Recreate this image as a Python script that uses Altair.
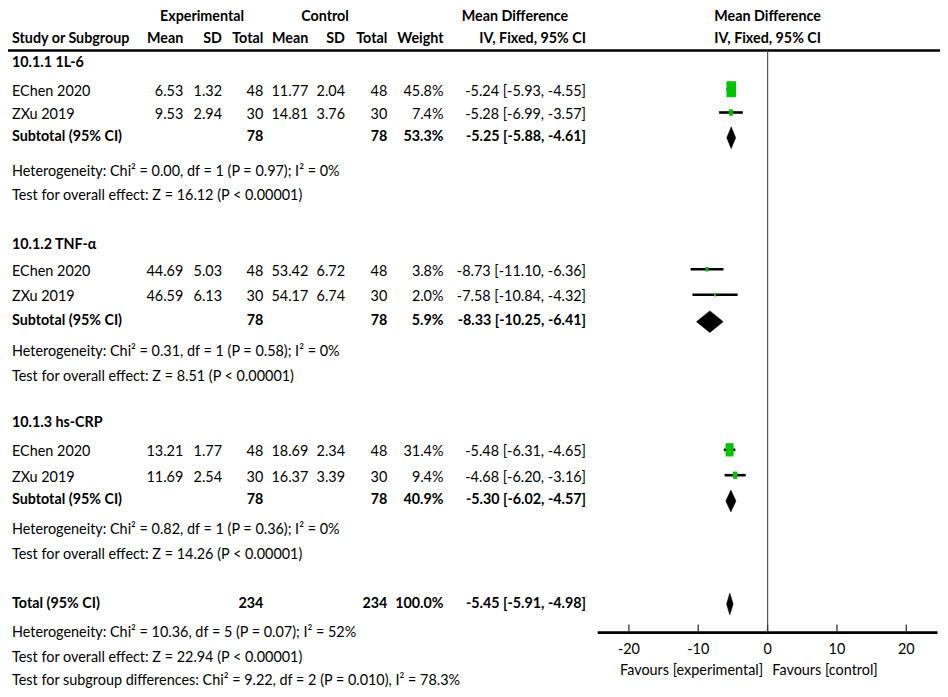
import altair as alt
import pandas as pd

# ---------------- data ----------------
subgroups = ["10.1.1 1L-6", "10.1.2 TNF-α", "10.1.3 hs-CRP"]
study_names = ["EChen 2020", "ZXu 2019", "EChen 2020", "ZXu 2019", "EChen 2020", "ZXu 2019"]
exp_mean = [6.53, 9.53, 44.69, 46.59, 13.21, 11.69]
exp_sd = [1.32, 2.94, 5.03, 6.13, 1.77, 2.54]
exp_n = [48, 30, 48, 30, 48, 30]
ctl_mean = [11.77, 14.81, 53.42, 54.17, 18.69, 16.37]
ctl_sd = [2.04, 3.76, 6.72, 6.74, 2.34, 3.39]
ctl_n = [48, 30, 48, 30, 48, 30]
study_weight = [45.8, 7.4, 3.8, 2.0, 31.4, 9.4]
study_md = [-5.24, -5.28, -8.73, -7.58, -5.48, -4.68]
study_lo = [-5.93, -6.99, -11.10, -10.84, -6.31, -6.20]
study_hi = [-4.55, -3.57, -6.36, -4.32, -4.65, -3.16]

sub_n_exp = [78, 78, 78]
sub_n_ctl = [78, 78, 78]
sub_weight = [53.3, 5.9, 40.9]
sub_md = [-5.25, -8.33, -5.30]
sub_lo = [-5.88, -10.25, -6.02]
sub_hi = [-4.61, -6.41, -4.57]
sub_het = [
    "Heterogeneity: Chi² = 0.00, df = 1 (P = 0.97); I² = 0%",
    "Heterogeneity: Chi² = 0.31, df = 1 (P = 0.58); I² = 0%",
    "Heterogeneity: Chi² = 0.82, df = 1 (P = 0.36); I² = 0%",
]
sub_test = [
    "Test for overall effect: Z = 16.12 (P < 0.00001)",
    "Test for overall effect: Z = 8.51 (P < 0.00001)",
    "Test for overall effect: Z = 14.26 (P < 0.00001)",
]

total_n_exp = 234
total_n_ctl = 234
total_weight = 100.0
total_md = -5.45
total_lo = -5.91
total_hi = -4.98
total_notes = [
    "Heterogeneity: Chi² = 10.36, df = 5 (P = 0.07); I² = 52%",
    "Test for overall effect: Z = 22.94 (P < 0.00001)",
    "Test for subgroup differences: Chi² = 9.22, df = 2 (P = 0.010), I² = 78.3%",
]

axis_ticks = [-20, -10, 0, 10, 20]
favours = ["Favours [experimental]", "Favours [control]"]

# ---------------- layout (page pixels -> plot pixels) ----------------
OFF = 8
W, H = 932, 681
FONT = "Lato, Liberation Sans, sans-serif"
FS = 14.4
FSB = 14.3
GREEN = "#00c400"


def P(v):
    return v - OFF


y_head1 = P(16.5)
y_head2 = P(38.5)
y_hline = P(50.5)
y_title = [P(63), P(245), P(423.3)]
y_study = [P(91.7), P(115), P(271.7), P(297.3), P(452.3), P(477.7)]
y_sub = [P(136.7), P(320.7), P(500)]
y_het = [P(171.7), P(351.7), P(530)]
y_test = [P(196), P(376.7), P(555)]
y_total = P(604)
y_notes = [P(633.3), P(658.3), P(680.5)]
y_axis = P(632.6)
y_tick_top = P(624.5)
y_ticklab = P(649.5)
y_fav = P(671.4)

cols = {
    "name": (P(12), "left"),
    "em": (P(183.3), "right"),
    "esd": (P(222), "right"),
    "en": (P(263.3), "right"),
    "cm": (P(308.3), "right"),
    "csd": (P(345), "right"),
    "cn": (P(387.3), "right"),
    "w": (P(443.5), "right"),
    "ci": (P(586), "right"),
    "exp_head": (P(202), "center"),
    "ctl_head": (P(325), "center"),
    "md_head": (P(515), "center"),
}

yscale = alt.Scale(domain=[0, H], range=[0, H], nice=False, zero=False)
xscale = alt.Scale(domain=[-24.5, 24.5], range=[P(597.7), P(937.5)], nice=False, zero=False)


def Y(f):
    return alt.Y(f, type="quantitative", scale=yscale, axis=None)


def X(f):
    return alt.X(f, type="quantitative", scale=xscale, axis=None)


def ci_str(m, lo, hi):
    return f"{m:.2f} [{lo:.2f}, {hi:.2f}]"


# ---------------- text table ----------------
rows = []


def add(y, col, text, bold=False):
    rows.append({"y": y, "col": col, "text": text, "bold": bold})


add(y_head1, "exp_head", "Experimental", True)
add(y_head1, "ctl_head", "Control", True)
add(y_head1, "md_head", "Mean Difference", True)
for col, t in [("name", "Study or Subgroup"), ("em", "Mean"), ("esd", "SD"), ("en", "Total"),
               ("cm", "Mean"), ("csd", "SD"), ("cn", "Total"), ("w", "Weight"),
               ("ci", "IV, Fixed, 95% CI")]:
    add(y_head2, col, t, True)

for g in range(3):
    add(y_title[g], "name", subgroups[g], True)
    for k in range(2):
        i = 2 * g + k
        y = y_study[i]
        add(y, "name", study_names[i])
        add(y, "em", f"{exp_mean[i]:.2f}")
        add(y, "esd", f"{exp_sd[i]:.2f}")
        add(y, "en", str(exp_n[i]))
        add(y, "cm", f"{ctl_mean[i]:.2f}")
        add(y, "csd", f"{ctl_sd[i]:.2f}")
        add(y, "cn", str(ctl_n[i]))
        add(y, "w", f"{study_weight[i]:.1f}%")
        add(y, "ci", ci_str(study_md[i], study_lo[i], study_hi[i]))
    add(y_sub[g], "name", "Subtotal (95% CI)", True)
    add(y_sub[g], "en", str(sub_n_exp[g]), True)
    add(y_sub[g], "cn", str(sub_n_ctl[g]), True)
    add(y_sub[g], "w", f"{sub_weight[g]:.1f}%", True)
    add(y_sub[g], "ci", ci_str(sub_md[g], sub_lo[g], sub_hi[g]), True)
    add(y_het[g], "name", sub_het[g])
    add(y_test[g], "name", sub_test[g])

add(y_total, "name", "Total (95% CI)", True)
add(y_total, "en", str(total_n_exp), True)
add(y_total, "cn", str(total_n_ctl), True)
add(y_total, "w", f"{total_weight:.1f}%", True)
add(y_total, "ci", ci_str(total_md, total_lo, total_hi), True)
for k in range(3):
    add(y_notes[k], "name", total_notes[k])

tdf = pd.DataFrame(rows)

layers = []
for col, (xp, align) in cols.items():
    for bold in (False, True):
        part = tdf[(tdf["col"] == col) & (tdf["bold"] == bold)]
        if len(part) == 0:
            continue
        layers.append(
            alt.Chart(part).mark_text(
                align=align, baseline="middle", font=FONT, fontSize=FSB if bold else FS,
                fontWeight="bold" if bold else "normal", color="black",
            ).encode(x=alt.value(xp), y=Y("y"), text="text:N")
        )

# plot-side headers centred on the line of no effect
phead = pd.DataFrame({"y": [y_head1, y_head2], "text": ["Mean Difference", "IV, Fixed, 95% CI"], "x": [0, 0]})
layers.append(
    alt.Chart(phead).mark_text(align="center", baseline="middle", font=FONT, fontSize=FSB,
                               fontWeight="bold", color="black")
    .encode(x=X("x"), y=Y("y"), text="text:N")
)

# header rule
layers.append(
    alt.Chart(pd.DataFrame({"y": [y_hline]})).mark_rule(color="black", strokeWidth=2.5)
    .encode(x=alt.value(0), x2=alt.value(W), y=Y("y"))
)

# line of no effect
layers.append(
    alt.Chart(pd.DataFrame({"x": [0], "y": [y_hline], "y2": [y_axis]})).mark_rule(color="#555555", strokeWidth=1.2)
    .encode(x=X("x"), y=Y("y"), y2="y2")
)

# ---------------- study CIs and squares ----------------
sdf = pd.DataFrame({
    "md": study_md, "lo": study_lo, "hi": study_hi, "w": study_weight,
    "y": [v - 2.5 for v in y_study],
})
layers.append(
    alt.Chart(sdf).mark_rule(color="black", strokeWidth=2.6)
    .encode(x=X("lo"), x2="hi", y=Y("y"))
)
layers.append(
    alt.Chart(sdf).mark_point(shape="M-0.6,-1L0.6,-1L0.6,1L-0.6,1Z", filled=True, color=GREEN,
                              opacity=1, strokeWidth=0)
    .encode(x=X("md"), y=Y("y"),
            size=alt.Size("w:Q", scale=alt.Scale(domain=[0, 100], range=[0, 559]), legend=None))
)

# ---------------- diamonds ----------------
HALF = 10.8
dia = []
d_md = sub_md + [total_md]
d_lo = sub_lo + [total_lo]
d_hi = sub_hi + [total_hi]
d_y = [v + 1 for v in y_sub] + [y_total]
for j in range(4):
    yc = d_y[j]
    dia.append({"g": j, "x": d_lo[j], "y": yc, "y2": yc})
    dia.append({"g": j, "x": d_md[j], "y": yc - HALF, "y2": yc + HALF})
    dia.append({"g": j, "x": d_hi[j], "y": yc, "y2": yc})
ddf = pd.DataFrame(dia)
layers.append(
    alt.Chart(ddf).mark_area(orient="vertical", color="black", stroke="black", strokeWidth=0.6, opacity=1)
    .encode(x=X("x"), y=Y("y"), y2="y2", detail="g:N")
)

# ---------------- axis ----------------
layers.append(
    alt.Chart(pd.DataFrame({"a": [-24.5], "b": [24.5], "y": [y_axis]}))
    .mark_rule(color="black", strokeWidth=2.6)
    .encode(x=X("a"), x2="b", y=Y("y"))
)
tdf2 = pd.DataFrame({"t": axis_ticks, "y": [y_tick_top] * 5, "y2": [y_axis] * 5,
                     "yl": [y_ticklab] * 5, "lab": [str(t) for t in axis_ticks]})
layers.append(
    alt.Chart(tdf2).mark_rule(color="#333333", strokeWidth=1.3)
    .encode(x=X("t"), y=Y("y"), y2="y2")
)
layers.append(
    alt.Chart(tdf2).mark_text(align="center", baseline="middle", font=FONT, fontSize=FS, color="black")
    .encode(x=X("t"), y=Y("yl"), text="lab:N")
)
fav = pd.DataFrame({"x": [0], "y": [y_fav], "left": [favours[0]], "right": [favours[1]]})
layers.append(
    alt.Chart(fav).mark_text(align="right", baseline="middle", font=FONT, fontSize=FS, color="black", dx=-4.5)
    .encode(x=X("x"), y=Y("y"), text="left:N")
)
layers.append(
    alt.Chart(fav).mark_text(align="left", baseline="middle", font=FONT, fontSize=FS, color="black", dx=4.7)
    .encode(x=X("x"), y=Y("y"), text="right:N")
)

chart = alt.layer(*layers).properties(
    width=W, height=H, padding=0,
    autosize=alt.AutoSizeParams(type="none"),
).configure_view(stroke=None)

chart.save("out.html", embed_options={"renderer": "svg", "actions": False})
